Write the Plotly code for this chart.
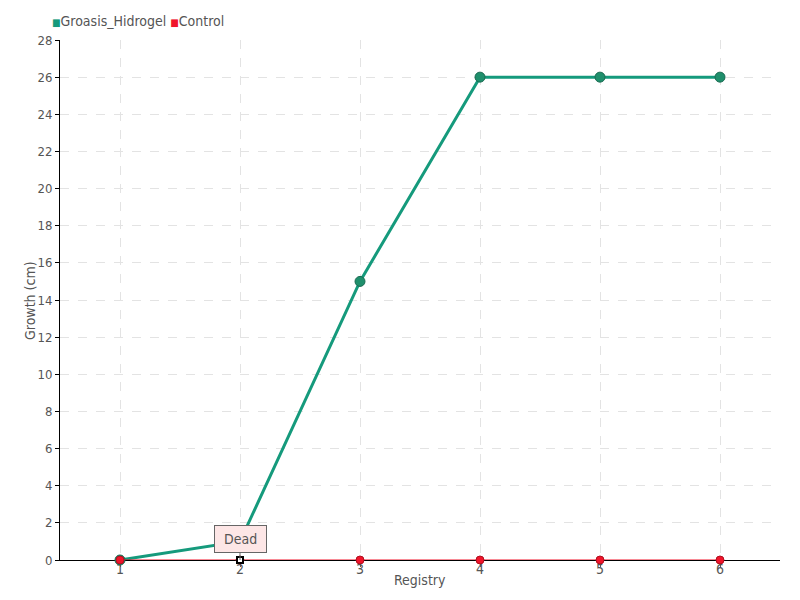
import plotly.graph_objects as go

registry = [1, 2, 3, 4, 5, 6]
groasis = [0, 1, 15, 26, 26, 26]
control = [0, 0, 0, 0, 0, 0]
y_ticks = list(range(0, 29, 2))
series_names = ["Groasis_Hidrogel", "Control"]

FONT = "DejaVu Sans Condensed, Liberation Sans Narrow, sans-serif"
GREEN = "#159a7c"
RED = "#f0142a"

fig = go.Figure()
fig.add_trace(go.Scatter(x=registry, y=groasis, mode="lines+markers", name=series_names[0], showlegend=False,
                         cliponaxis=False,
                         line=dict(color=GREEN, width=3),
                         marker=dict(size=10, color="#1f8f6c", line=dict(color="#1a6b52", width=1))))
fig.add_trace(go.Scatter(x=registry, y=control, mode="lines+markers", name=series_names[1], showlegend=False,
                         cliponaxis=False,
                         line=dict(color=RED, width=1),
                         marker=dict(size=8, color=RED, line=dict(color="#b01020", width=1))))
# highlighted point
fig.add_trace(go.Scatter(x=[registry[1]], y=[control[1]], mode="markers", showlegend=False,
                         cliponaxis=False,
                         marker=dict(symbol="square", size=6, color="white", line=dict(color="black", width=2))))

# compact legend as text
fig.add_annotation(xref="paper", yref="paper", x=-0.0139, y=1.0365, xanchor="left", yanchor="middle",
                   showarrow=False, align="left",
                   text=(f"<span style='color:{GREEN};font-size:10px'>■</span>{series_names[0]} "
                         f"<span style='color:{RED};font-size:10px'>■</span>{series_names[1]}"),
                   font=dict(family=FONT, size=14, color="#555"))

# axis titles
fig.add_annotation(xref="paper", yref="paper", x=0.5, y=-0.0385, xanchor="center", yanchor="middle",
                   showarrow=False, text="Registry", font=dict(family=FONT, size=14, color="#555"))
fig.add_annotation(xref="paper", yref="paper", x=-0.0417, y=0.5, xanchor="center", yanchor="middle",
                   showarrow=False, text="Growth (cm)", textangle=-90,
                   font=dict(family=FONT, size=14, color="#555"))

fig.add_annotation(x=registry[1], y=control[1], text=" Dead ", showarrow=True,
                   ax=0, ay=-21, arrowcolor="#666", arrowwidth=1, arrowhead=0, standoff=0,
                   bgcolor="#fde6e6", bordercolor="#666", borderwidth=1, borderpad=5,
                   font=dict(family=FONT, size=14, color="#555"))

fig.update_layout(
    width=800, height=600,
    margin=dict(l=52, r=28, t=32, b=48, autoexpand=False),
    paper_bgcolor="white", plot_bgcolor="white",
    font=dict(family=FONT, size=14, color="#555"),
    showlegend=False,
    xaxis=dict(range=[0.5, 6.5], tickmode="array", tickvals=registry, ticktext=[str(r) for r in registry],
               showline=True, linecolor="black", linewidth=1, ticks="outside", ticklen=6,
               tickcolor="#555", showgrid=True, gridcolor="#e3e3e3", griddash="dash", zeroline=False,
               tickfont=dict(size=14), ticklabelstandoff=-10, layer="below traces"),
    yaxis=dict(range=[0, 28], tickmode="array", tickvals=y_ticks,
               showline=True, linecolor="black", linewidth=1, ticks="outside", ticklen=4,
               tickcolor="black", showgrid=True, gridcolor="#e3e3e3", griddash="dash", zeroline=False,
               tickfont=dict(size=13), layer="below traces"),
)
fig.write_html("out.html")
